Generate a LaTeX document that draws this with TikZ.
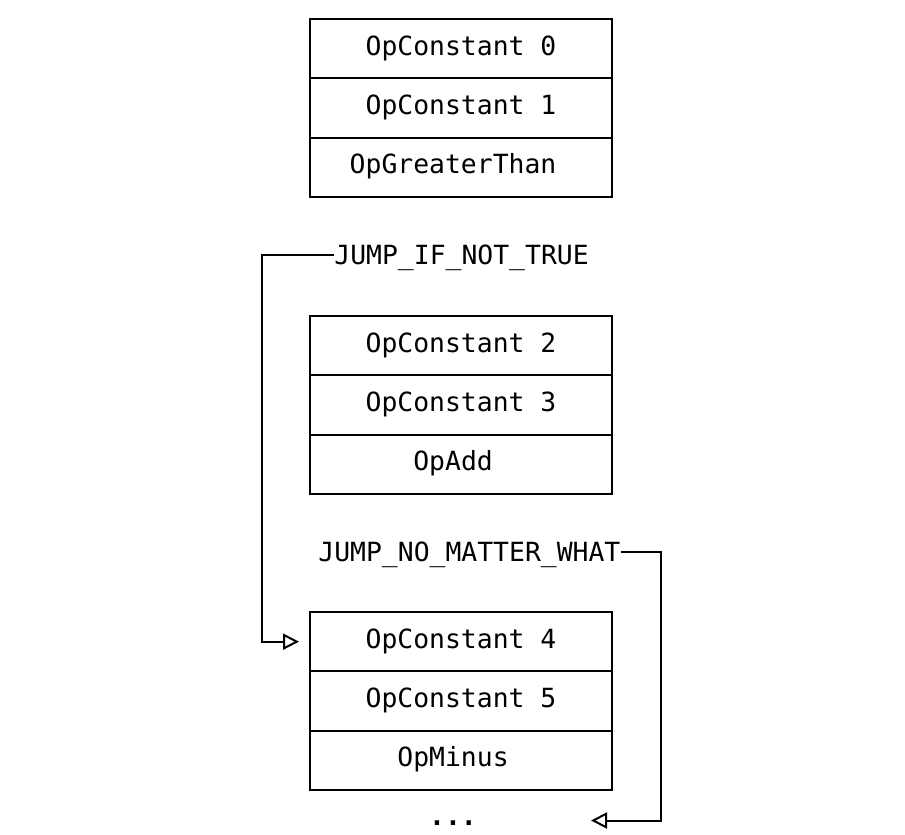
\documentclass[tikz,border=0pt]{standalone}
\usepackage{fontspec}
\newfontfamily\opfont{DejaVu Sans Mono}
\usetikzlibrary{arrows.meta}

\begin{document}
\begin{tikzpicture}[x=0.5pt, y=-0.5pt,
      op/.style={draw, line width=1pt, minimum width=151pt, minimum height=29.65pt, inner sep=0pt, text height=0.9em, text depth=0.23em, font=\opfont\fontsize{13.2}{15}\selectfont},
      lbl/.style={inner sep=0pt, font=\opfont\fontsize{13.2}{15}\selectfont},
      jump/.style={line width=1pt, -{Triangle[open, length=8pt, width=8pt]}},
    ]
      \useasboundingbox (0,0) rectangle (905,835);
      % first block
      \node[op] (c0) at (461,48.65) {OpConstant 0};
      \node[op] (c1) at (461,107.95) {OpConstant 1};
      \node[op] (gt) at (461,167.25) {OpGreaterThan\hphantom{0}};
      % second block
      \node[op] (c2) at (461,345.65) {OpConstant 2};
      \node[op] (c3) at (461,404.95) {OpConstant 3};
      \node[op] (add) at (461,464.25) {OpAdd\hphantom{0}};
      % third block
      \node[op] (c4) at (461,641.65) {OpConstant 4};
      \node[op] (c5) at (461,700.95) {OpConstant 5};
      \node[op] (minus) at (461,760.25) {OpMinus\hphantom{0}};
      \node[lbl, font=\opfont\bfseries\fontsize{13.2}{15}\selectfont] (more) at (453,823) {...};
      % jumps
      \node[lbl, anchor=base west] (jnt) at (334,264.5) {JUMP\_IF\_NOT\_TRUE};
      \node[lbl, anchor=base west] (jmp) at (318,561) {JUMP\_NO\_MATTER\_WHAT};
      \coordinate (k1) at (262,255);
      \coordinate (k2) at (661,552);
      \coordinate (e2) at (591,820.5);
      \draw[jump, shorten >=5pt] (k1 -| jnt.west) -- (k1) |- (c4.west);
      \draw[jump] (k2 -| jmp.east) -- (k2) |- (e2);
    \end{tikzpicture}
\end{document}
